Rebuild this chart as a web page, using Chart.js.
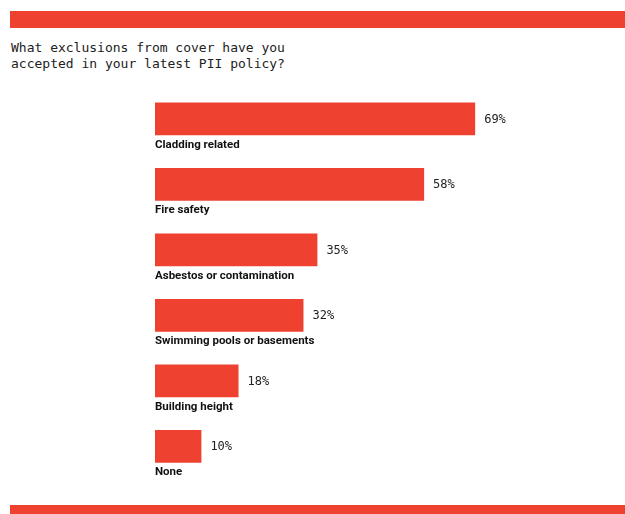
<!DOCTYPE html>
<html>
<head>
<meta charset="utf-8">
<script src="https://cdn.jsdelivr.net/npm/chart.js@4"></script>
<style>
    body { margin: 0; background: #fff; }
    #wrap { position: relative; width: 625px; height: 514px; overflow: hidden; }
    .stripe { position: absolute; left: 10px; right: 0; background: #ef4130; }
    #title {
        position: absolute; left: 11px; top: 40px;
        font: 13px "DejaVu Sans Mono", monospace; line-height: 16px; color: #222;
    }
    canvas { position: absolute; left: 0; top: 0; }
</style>
</head>
<body>
<div id="wrap">
    <div class="stripe" style="top: 11px; height: 17px;"></div>
    <div id="title">What exclusions from cover have you<br>accepted in your latest PII policy?</div>
    <canvas id="chart" width="625" height="514"></canvas>
    <div class="stripe" style="top: 505px; height: 9px;"></div>
</div>
<script>
const categories = ['Cladding related', 'Fire safety', 'Asbestos or contamination',
    'Swimming pools or basements', 'Building height', 'None'];
const values = [69, 58, 35, 32, 18, 10];

// labels under each bar + percentage to the right
const barLabels = {
    id: 'barLabels',
    afterDatasetsDraw(chart) {
        const ctx = chart.ctx;
        const meta = chart.getDatasetMeta(0);
        ctx.save();
        meta.data.forEach((bar, i) => {
            const bottom = bar.y + bar.height / 2;
            ctx.fillStyle = '#222';
            ctx.font = '12px "DejaVu Sans Mono", monospace';
            ctx.textBaseline = 'middle';
            ctx.textAlign = 'left';
            ctx.fillText(values[i] + '%', bar.x + 9, bar.y + 1);
            ctx.fillStyle = '#111';
            ctx.font = 'bold 11.5px Roboto, sans-serif';
            ctx.textBaseline = 'top';
            ctx.fillText(categories[i], bar.base, bottom + 4);
        });
        ctx.restore();
    }
};

new Chart(document.getElementById('chart'), {
    type: 'bar',
    data: {
        labels: categories,
        datasets: [{
            data: values,
            backgroundColor: '#ef4130',
            borderWidth: 0,
            barPercentage: 0.5,
            categoryPercentage: 1
        }]
    },
    options: {
        indexAxis: 'y',
        responsive: false,
        animation: false,
        layout: { padding: { left: 155, right: 6, top: 86, bottom: 35 } },
        plugins: { legend: { display: false }, tooltip: { enabled: false } },
        scales: {
            x: { display: false, min: 0, max: 100 },
            y: { display: false }
        }
    },
    plugins: [barLabels]
});
</script>
</body>
</html>
